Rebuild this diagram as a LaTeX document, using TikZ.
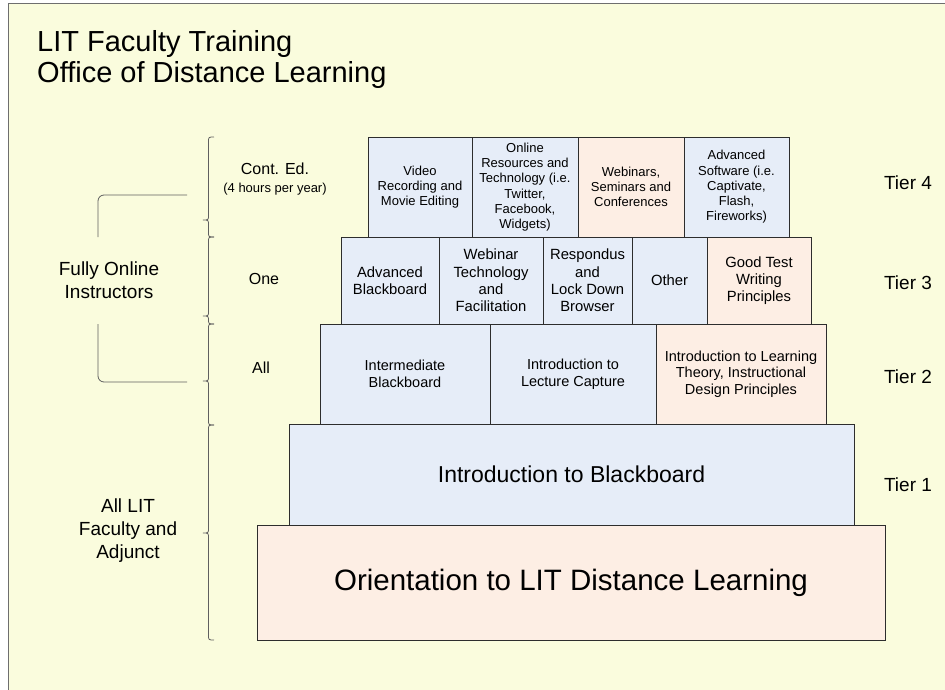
\documentclass[tikz,border=0pt]{standalone}
\usepackage{fontspec}
\setmainfont{Liberation Sans}
\definecolor{bgyellow}{RGB}{250,252,221}
\definecolor{boxblue}{RGB}{230,237,248}
\definecolor{boxpeach}{RGB}{253,238,228}
\definecolor{boxline}{RGB}{45,45,45}
\definecolor{bracegray}{RGB}{95,95,95}
\definecolor{framegray}{RGB}{110,110,110}
\newcommand\fs[2]{\fontsize{#1}{#2}\selectfont}
\newcommand\drawbrace[3]{% top, tip, bottom (y measured downwards)
  \draw[bracestyle] (214,#1) .. controls (208.5,#1) .. (208.5,#1+5)
    -- (208.5,#2-5) .. controls (208.5,#2) .. (203,#2)
    .. controls (208.5,#2) .. (208.5,#2+5)
    -- (208.5,#3-5) .. controls (208.5,#3) .. (214,#3);}
\begin{document}
\begin{tikzpicture}[x=1pt,y=-1pt,
  boxbase/.style={draw=boxline, line width=0.7pt, inner sep=1pt, align=center, outer sep=0pt},
  bluebox/.style={boxbase, fill=boxblue},
  peachbox/.style={boxbase, fill=boxpeach},
  tierfour/.style={font=\fs{13}{15.3}},
  tierthree/.style={font=\fs{14.8}{17.3}},
  tiertwo/.style={font=\fs{14.5}{16.7}},
  lbl/.style={inner sep=0pt, align=center},
  tierlbl/.style={lbl, font=\fs{19}{22}},
  bracestyle/.style={draw=bracegray, line width=0.8pt},
  bracket/.style={draw=bracegray, line width=0.8pt, rounded corners=6pt},
]
% background and frame
\useasboundingbox (0,0) rectangle (945,690);
\fill[white] (0,0) rectangle (945,690);
\fill[bgyellow] (8,3) rectangle (945,690);
\draw[framegray, line width=0.8pt] (945,3) -- (8,3) -- (8,690);

% title
\node[lbl, anchor=base west, font=\fs{29}{31}] (title1) at (37,52) {LIT Faculty Training};
\node[lbl, anchor=base west, font=\fs{29}{31}] (title2) at (37,83) {Office of Distance Learning};

% base
\node[peachbox, font=\fs{29.5}{34}, minimum width=628pt, minimum height=115pt] (orient) at (571,582.5) {Orientation to LIT Distance Learning};
% tier 1
\node[bluebox, font=\fs{23}{26}, minimum width=565pt, minimum height=101pt] (intro) at (571.5,474.5) {Introduction to Blackboard};
% tier 2
\node[bluebox, tiertwo, minimum width=170pt, minimum height=100pt] (t2a) at (405,374) {Intermediate\\Blackboard};
\node[bluebox, tiertwo, minimum width=166pt, minimum height=100pt] (t2b) at (573,374) {Introduction to\\Lecture Capture};
\node[peachbox, tiertwo, minimum width=170pt, minimum height=100pt] (t2c) at (741,374) {Introduction to Learning\\Theory, Instructional\\Design Principles};
% tier 3
\node[bluebox, tierthree, minimum width=98pt, minimum height=87pt] (t3a) at (390,280.5) {Advanced\\Blackboard};
\node[bluebox, tierthree, minimum width=104pt, minimum height=87pt] (t3b) at (491,280.5) {Webinar\\Technology\\and\\Facilitation};
\node[bluebox, tierthree, minimum width=89pt, minimum height=87pt] (t3c) at (587.5,280.5) {Respondus\\and\\Lock Down\\Browser};
\node[bluebox, tierthree, minimum width=75pt, minimum height=87pt] (t3d) at (669.5,280.5) {Other};
\node[peachbox, tierthree, minimum width=104pt, minimum height=87pt] (t3e) at (759,280.5) {Good Test\\Writing\\Principles};
% tier 4
\node[bluebox, tierfour, minimum width=104pt, minimum height=100pt] (t4a) at (420,187) {Video\\Recording and\\Movie Editing};
\node[bluebox, tierfour, minimum width=106pt, minimum height=100pt] (t4b) at (525,187) {Online\\Resources and\\Technology (i.e.\\Twitter,\\Facebook,\\Widgets)};
\node[peachbox, tierfour, minimum width=106pt, minimum height=100pt] (t4c) at (631,187) {Webinars,\\Seminars and\\Conferences};
\node[bluebox, tierfour, minimum width=105pt, minimum height=100pt] (t4d) at (736.5,187) {Advanced\\Software (i.e.\\Captivate,\\Flash,\\Fireworks)};

% tier labels
\node[tierlbl] (tier4) at (908,183) {Tier 4};
\node[tierlbl] (tier3) at (908,283) {Tier 3};
\node[tierlbl] (tier2) at (908,377) {Tier 2};
\node[tierlbl] (tier1) at (908,485) {Tier 1};

% left labels
\node[lbl, font=\fs{16}{18}] (conted) at (275,169) {Cont. Ed.};
\node[lbl, font=\fs{13}{15}] (hours) at (275,189) {(4 hours per year)};
\node[lbl, font=\fs{16}{18}] (one) at (264,279) {One};
\node[lbl, font=\fs{16}{18}] (all) at (261,368) {All};
\node[lbl, font=\fs{19}{23}] (fully) at (109,280.5) {Fully Online\\Instructors};
\node[lbl, font=\fs{19}{23}] (alllit) at (128,531) {All LIT\\Faculty and\\Adjunct};

% braces
\drawbrace{137}{220}{237}
\drawbrace{237}{316}{324}
\drawbrace{324}{381}{425}
\drawbrace{425}{533}{640}

% fully online bracket
\draw[bracket] (187,195) -- (98,195) -- (98,237);
\draw[bracket] (98,324) -- (98,382) -- (187,382);
\end{tikzpicture}
\end{document}
